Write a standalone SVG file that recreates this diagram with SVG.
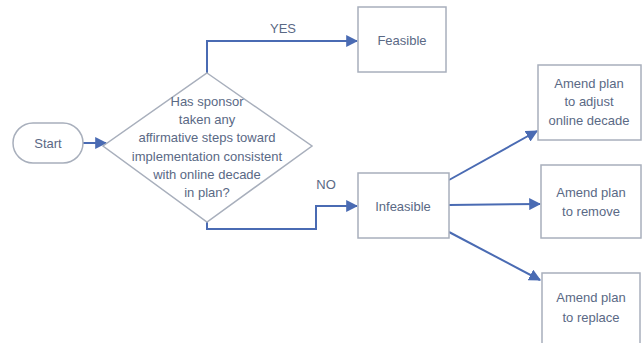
<svg xmlns="http://www.w3.org/2000/svg" width="643" height="343" viewBox="0 0 643 343">
<defs>
<style>
.box{fill:#fff;stroke:#a8afbc;stroke-width:1.5}
.ln{fill:none;stroke:#4a6bb3;stroke-width:2}
.t{font-family:"Liberation Sans",Arial,sans-serif;font-size:13px;fill:#5a6985;text-anchor:middle}
.d{font-size:13px}
</style>
<marker id="ah" viewBox="0 0 10 10" refX="9" refY="5" markerWidth="6" markerHeight="6" orient="auto" markerUnits="strokeWidth">
<path d="M0,0 L10,5 L0,10 z" fill="#4a6bb3"/>
</marker>
</defs>
<rect width="643" height="343" fill="#fff"/>
<g id="connectors">
<line class="ln" x1="83" y1="143" x2="106" y2="143" marker-end="url(#ah)"/>
<polyline class="ln" points="207,73 207,41 357,41" marker-end="url(#ah)"/>
<polyline class="ln" points="207,222 207,229 316,229 316,206 357,206" marker-end="url(#ah)"/>
<line class="ln" x1="449" y1="180" x2="537" y2="131" marker-end="url(#ah)"/>
<line class="ln" x1="449" y1="205" x2="540" y2="204" marker-end="url(#ah)"/>
<line class="ln" x1="449" y1="232" x2="540" y2="280" marker-end="url(#ah)"/>
<text class="t" x="283" y="33">YES</text>
<text class="t" x="326" y="189">NO</text>
</g>
<g id="start">
<rect class="box" x="13" y="123" width="70" height="40" rx="20"/>
<text class="t" x="48" y="148">Start</text>
</g>
<g id="decision">
<polygon class="box" points="207,73 312,146 207,222 103,146"/>
<text class="t d" x="207" y="106">Has sponsor</text>
<text class="t d" x="207" y="124">taken any</text>
<text class="t d" x="207" y="142">affirmative steps toward</text>
<text class="t d" x="207" y="161">implementation consistent</text>
<text class="t d" x="207" y="179">with online decade</text>
<text class="t d" x="207" y="197">in plan?</text>
</g>
<g id="feasible">
<rect class="box" x="358" y="7" width="88" height="65"/>
<text class="t" x="402" y="45">Feasible</text>
</g>
<g id="infeasible">
<rect class="box" x="358" y="173" width="91" height="65"/>
<text class="t" x="403" y="211">Infeasible</text>
</g>
<g id="adjust">
<rect class="box" x="538" y="65" width="103" height="75"/>
<text class="t" x="589" y="88">Amend plan</text>
<text class="t" x="589" y="106">to adjust</text>
<text class="t" x="589" y="125">online decade</text>
</g>
<g id="remove">
<rect class="box" x="541" y="165" width="100" height="73"/>
<text class="t" x="591" y="197">Amend plan</text>
<text class="t" x="591" y="216">to remove</text>
</g>
<g id="replace">
<rect class="box" x="542" y="273" width="98" height="75"/>
<text class="t" x="591" y="302">Amend plan</text>
<text class="t" x="591" y="322">to replace</text>
</g>
</svg>
